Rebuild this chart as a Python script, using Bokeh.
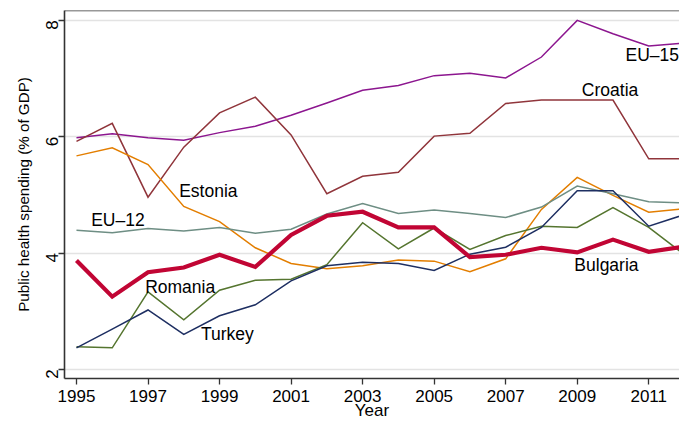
import math
from bokeh.plotting import figure
from bokeh.models import ColumnDataSource, Range1d, FixedTicker, Span, Title
from bokeh.embed import file_html
from bokeh.resources import INLINE
from bokeh.core.properties import value

years = list(range(1995, 2013))

eu15 = [5.98, 6.05, 5.98, 5.94, 6.07, 6.18, 6.37, 6.58, 6.80, 6.88, 7.05, 7.09, 7.01, 7.37, 8.00, 7.77, 7.56, 7.61]
croatia = [5.92, 6.23, 4.96, 5.82, 6.41, 6.68, 6.03, 5.02, 5.32, 5.39, 6.01, 6.06, 6.57, 6.63, 6.63, 6.63, 5.62, 5.62]
estonia = [5.67, 5.81, 5.52, 4.80, 4.54, 4.09, 3.82, 3.73, 3.78, 3.88, 3.86, 3.68, 3.90, 4.75, 5.30, 4.99, 4.70, 4.76]
eu12 = [4.39, 4.35, 4.42, 4.38, 4.44, 4.34, 4.41, 4.67, 4.85, 4.68, 4.74, 4.68, 4.61, 4.79, 5.15, 5.02, 4.88, 4.86]
romania = [2.39, 2.37, 3.33, 2.85, 3.36, 3.53, 3.55, 3.80, 4.52, 4.07, 4.43, 4.06, 4.30, 4.46, 4.44, 4.78, 4.44, 3.97]
turkey = [2.37, 2.69, 3.02, 2.60, 2.92, 3.11, 3.52, 3.78, 3.84, 3.82, 3.70, 3.98, 4.10, 4.44, 5.07, 5.07, 4.46, 4.66]
bulgaria = [3.87, 3.25, 3.67, 3.75, 3.97, 3.76, 4.31, 4.64, 4.71, 4.44, 4.44, 3.93, 3.97, 4.09, 4.01, 4.23, 4.02, 4.11]

x_ticks = [1995, 1997, 1999, 2001, 2003, 2005, 2007, 2009, 2011]
y_ticks = [2, 4, 6, 8]

# series label text and anchor (year, value)
label_text = ["EU\u201315", "Croatia", "Estonia", "EU\u201312", "Romania", "Turkey", "Bulgaria"]
label_x = [2010.35, 2009.13, 1997.87, 1995.41, 1996.92, 1998.48, 2008.92]
label_y = [7.40, 6.81, 5.06, 4.57, 3.42, 2.61, 3.80]

x_title = "Year"
y_title = "Public health spending (% of GDP)"

X0, X1 = 1994.665, 2011.86
Y0, Y1 = 1.842, 8.17

p = figure(width=679, height=422, output_backend="svg", toolbar_location=None,
           x_range=Range1d(X0, X1), y_range=Range1d(Y0, Y1),
           min_border_left=64, min_border_right=0, min_border_top=10, min_border_bottom=40)
p.outline_line_color = None
p.background_fill_color = "white"
p.border_fill_color = "white"

FONT = "Liberation Sans"
AX = "#333333"

p.xgrid.grid_line_color = None
p.ygrid.grid_line_color = "#e3e3e3"
p.ygrid.grid_line_width = 1.6
p.ygrid.ticker = FixedTicker(ticks=y_ticks)

for ax in (p.xaxis[0], p.yaxis[0]):
    ax.axis_line_color = AX
    ax.axis_line_width = 1.6
    ax.major_tick_line_color = AX
    ax.major_tick_line_width = 1.3
    ax.major_tick_out = 6
    ax.major_tick_in = 0
    ax.minor_tick_line_color = None
    ax.major_label_text_font = FONT
    ax.major_label_text_font_size = "17px"
    ax.major_label_text_color = "black"
    ax.axis_label_text_font = FONT
    ax.axis_label_text_font_style = "normal"
    ax.axis_label_text_color = "black"

p.xaxis.ticker = FixedTicker(ticks=x_ticks)
p.yaxis.ticker = FixedTicker(ticks=y_ticks)
p.xaxis.major_label_standoff = 5
p.xaxis.axis_label = x_title
p.xaxis.axis_label_text_font_size = "17px"
p.xaxis.axis_label_standoff = -4
p.yaxis.major_label_orientation = math.pi / 2
p.yaxis.major_label_standoff = 6

p.add_layout(Title(text=y_title, align="center", offset=0, standoff=12,
                   text_font=FONT, text_font_size="15.2px", text_font_style="normal",
                   text_color="black"), "left")

p.add_layout(Span(location=Y1, dimension="width", line_color=AX, line_width=1.6))

src = ColumnDataSource(dict(year=years, eu15=eu15, croatia=croatia, estonia=estonia,
                            eu12=eu12, romania=romania, turkey=turkey, bulgaria=bulgaria))

series = [
    ("eu15", "#8c168f", 1.5),
    ("croatia", "#90353b", 1.5),
    ("estonia", "#e37e00", 1.5),
    ("eu12", "#6e8e84", 1.5),
    ("romania", "#55752f", 1.5),
    ("turkey", "#1e2f62", 1.5),
    ("bulgaria", "#c10534", 4.2),
]
for col, color, w in series:
    p.line("year", col, source=src, line_color=color, line_width=w, line_join="miter")

lab_src = ColumnDataSource(dict(x=label_x, y=label_y, t=label_text))
p.text("x", "y", text="t", source=lab_src, text_font=value(FONT), text_font_size="17.5px",
       text_color="black", text_align="left", text_baseline="middle")

open("out.html", "w").write(file_html(p, INLINE))
